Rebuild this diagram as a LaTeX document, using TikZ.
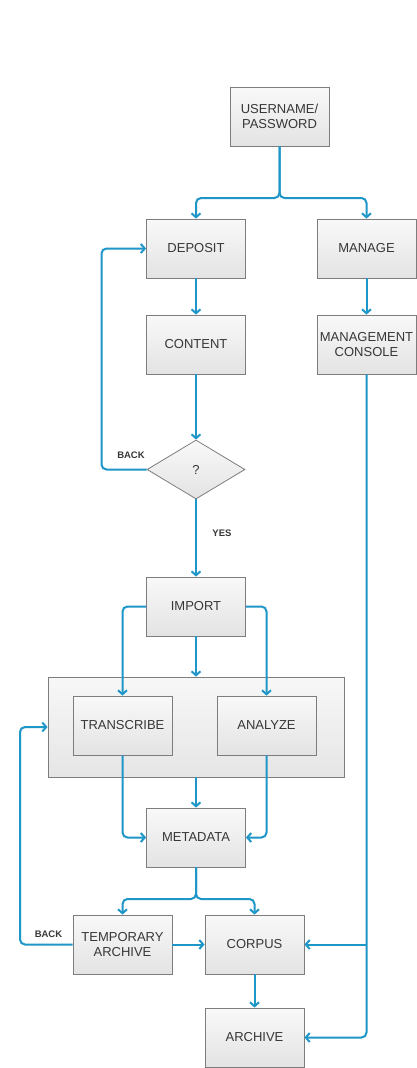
\documentclass[tikz,border=0pt]{standalone}
\usepackage{fontspec}
\setmainfont{Liberation Sans}
\usetikzlibrary{arrows.meta,shapes.geometric}
\definecolor{flowc}{RGB}{30,150,200}
\definecolor{boxline}{RGB}{125,125,125}
\definecolor{txt}{RGB}{55,55,55}
\tikzset{
  box/.style={draw=boxline, line width=0.8pt, top color=gray!5, bottom color=gray!22,
    minimum width=99pt, minimum height=59pt, inner sep=0pt, align=center, text=txt,
    font=\fontsize{13}{15.5}\selectfont},
  grpbox/.style={draw=boxline, line width=0.8pt, top color=gray!6, bottom color=gray!20,
    minimum width=296pt, minimum height=100pt, inner sep=0pt},
  decbox/.style={diamond, draw=boxline, line width=0.8pt, top color=gray!5, bottom color=gray!22,
    minimum width=98pt, minimum height=59pt, inner sep=0pt, text=txt,
    font=\fontsize{13}{15.5}\selectfont},
  flow/.style={draw=flowc, line width=2pt, -{Straight Barb[length=4pt,width=9pt]}, rounded corners=5pt},
  flowplain/.style={draw=flowc, line width=2pt, rounded corners=5pt},
  lbl/.style={font=\bfseries\fontsize{9.5}{11}\selectfont, text=txt}
}
\begin{document}
\begin{tikzpicture}[x=1pt,y=-1pt]
\useasboundingbox[fill=white] (0,0) rectangle (417,1068);
% nodes
\node[box] (user) at (279.5,116.5) {USERNAME/\\PASSWORD};
\node[box] (dep) at (196,248.5) {DEPOSIT};
\node[box] (man) at (366.5,248.5) {MANAGE};
\node[box] (cont) at (196,344.5) {CONTENT};
\node[box] (mc) at (366.5,344.5) {MANAGEMENT\\CONSOLE};
\node[decbox] (q) at (196,469.5) {?};
\node[box] (imp) at (196,606.5) {IMPORT};
\node[grpbox] (grp) at (196,727) {};
\node[box] (tr) at (122.5,725.5) {TRANSCRIBE};
\node[box] (an) at (266.5,725.5) {ANALYZE};
\node[box] (meta) at (196,837.5) {METADATA};
\node[box] (tmp) at (122.5,944.5) {TEMPORARY\\ARCHIVE};
\node[box] (corp) at (254.5,944.5) {CORPUS};
\node[box] (arch) at (254.5,1037.5) {ARCHIVE};
% labels
\node[lbl] (backa) at (131,455) {BACK};
\node[lbl] (yes) at (222,533) {YES};
\node[lbl] (backb) at (48.5,934) {BACK};
% helper coordinates
\coordinate (s1) at (279.5,198);
\coordinate (s2) at (196,899);
\coordinate (la) at (101.5,469.5);
\coordinate (lb) at (20,944.5);
% connectors
\draw[flow] (user.south) -- (s1) -| (dep.north);
\draw[flow] (user.south) -- (s1) -| (man.north);
\draw[flow] (dep) -- (cont);
\draw[flow] (man) -- (mc);
\draw[flow] (cont) -- (q.north);
\draw[flow] (q.west) -- (la) |- (dep.west);
\draw[flow] (q.south) -- (imp.north);
\draw[flow] (imp.west) -| (tr.north);
\draw[flow] (imp.east) -| (an.north);
\draw[flow] (imp.south) -- (grp.north);
\draw[flow] (tr.south) |- (meta.west);
\draw[flow] (an.south) |- (meta.east);
\draw[flow] (grp.south) -- (meta.north);
\draw[flow] (meta.south) -- (s2) -| (tmp.north);
\draw[flow] (meta.south) -- (s2) -| (corp.north);
\draw[flow] (tmp) -- (corp);
\draw[flow] (corp) -- (arch);
\draw[flow] (mc.south) |- (arch.east);
\draw[flow] (mc.south |- corp.east) -- (corp.east);
\draw[flow] (tmp.west) -- (lb) |- (grp.west);
\end{tikzpicture}
\end{document}
